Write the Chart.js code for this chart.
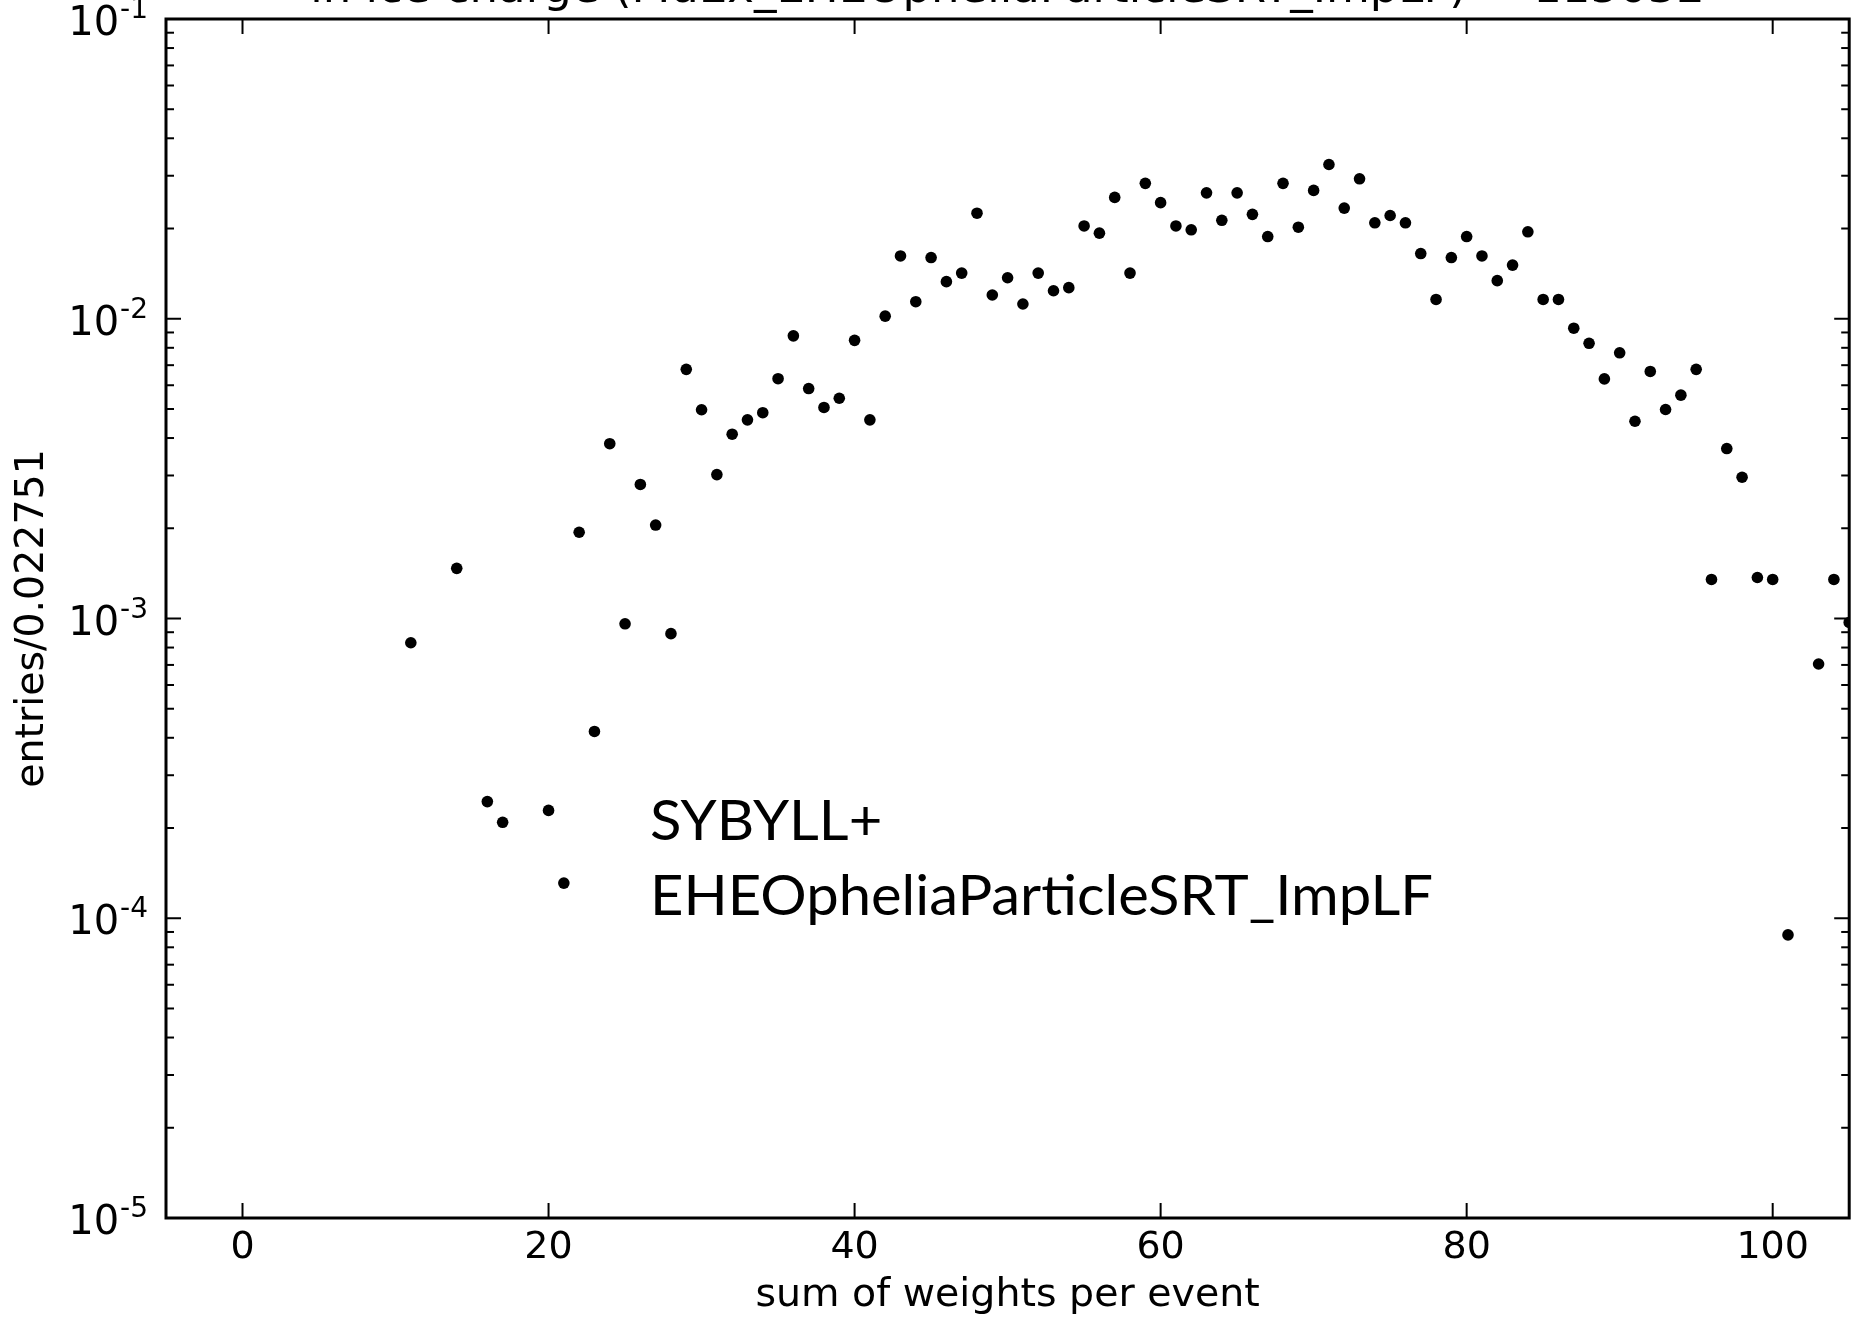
<!DOCTYPE html>
<html>
<head>
<meta charset="utf-8">
<script src="https://cdn.jsdelivr.net/npm/chart.js@4.4.1/dist/chart.umd.min.js"></script>
<style>
  html, body { margin: 0; padding: 0; background: #fff; }
  canvas { display: block; }
</style>
</head>
<body>
<canvas id="weightsChart" width="1855" height="1320"></canvas>
<script>
// ============================================
// Sum of weights per event (log scale scatter)
// ============================================

const titleText = 'in ice charge (MuEx_EHEOpheliaParticleSRT_ImpLF) = 115032';
const xTitle = 'sum of weights per event';
const yTitle = 'entries/0.022751';
const legendLines = ['SYBYLL+', 'EHEOpheliaParticleSRT_ImpLF'];

const xTicks = [0, 20, 40, 60, 80, 100];
const yTickExps = [-5, -4, -3, -2, -1];

const weights = [
    11, 14, 16, 17, 20, 21, 22, 23, 24, 25, 26, 27, 28, 29, 30,
    31, 32, 33, 34, 35, 36, 37, 38, 39, 40, 41, 42, 43, 44, 45,
    46, 47, 48, 49, 50, 51, 52, 53, 54, 55, 56, 57, 58, 59, 60,
    61, 62, 63, 64, 65, 66, 67, 68, 69, 70, 71, 72, 73, 74, 75,
    76, 77, 78, 79, 80, 81, 82, 83, 84, 85, 86, 87, 88, 89, 90,
    91, 92, 93, 94, 95, 96, 97, 98, 99, 100, 101, 103, 104, 105,
];

const entries = [
    8.3e-4, 1.47e-3, 2.45e-4, 2.09e-4, 2.29e-4, 1.31e-4, 1.94e-3, 4.2e-4, 3.83e-3, 9.6e-4, 2.8e-3, 2.05e-3, 8.9e-4, 6.78e-3, 4.97e-3,
    3.02e-3, 4.12e-3, 4.6e-3, 4.86e-3, 6.31e-3, 8.77e-3, 5.85e-3, 5.06e-3, 5.43e-3, 8.47e-3, 4.6e-3, 1.02e-2, 1.62e-2, 1.14e-2, 1.6e-2,
    1.33e-2, 1.42e-2, 2.25e-2, 1.2e-2, 1.37e-2, 1.12e-2, 1.42e-2, 1.24e-2, 1.27e-2, 2.04e-2, 1.93e-2, 2.54e-2, 1.42e-2, 2.83e-2, 2.44e-2,
    2.04e-2, 1.98e-2, 2.63e-2, 2.13e-2, 2.63e-2, 2.23e-2, 1.88e-2, 2.83e-2, 2.02e-2, 2.68e-2, 3.27e-2, 2.34e-2, 2.93e-2, 2.09e-2, 2.21e-2,
    2.09e-2, 1.65e-2, 1.16e-2, 1.6e-2, 1.88e-2, 1.62e-2, 1.34e-2, 1.51e-2, 1.95e-2, 1.16e-2, 1.16e-2, 9.3e-3, 8.28e-3, 6.3e-3, 7.7e-3,
    4.55e-3, 6.67e-3, 4.98e-3, 5.56e-3, 6.78e-3, 1.35e-3, 3.69e-3, 2.96e-3, 1.37e-3, 1.35e-3, 8.8e-5, 7.05e-4, 1.35e-3, 9.7e-4,
];

const AXIS_FONT = '"DejaVu Sans", sans-serif';

function line(ctx, x1, y1, x2, y2) {
    ctx.beginPath();
    ctx.moveTo(x1, y1);
    ctx.lineTo(x2, y2);
    ctx.stroke();
}

// matplotlib-style frame: inward ticks on all four sides, 10^n labels
const frameAxes = {
    id: 'frameAxes',
    afterDraw(chart) {
        const { ctx, chartArea: a, scales: { x, y } } = chart;
        ctx.save();
        ctx.strokeStyle = '#000';
        ctx.fillStyle = '#000';

        // ticks
        ctx.lineWidth = 2;
        xTicks.forEach(v => {
            const px = x.getPixelForValue(v);
            line(ctx, px, a.bottom, px, a.bottom - 15);
            line(ctx, px, a.top, px, a.top + 15);
        });
        yTickExps.forEach(e => {
            const py = y.getPixelForValue(Math.pow(10, e));
            line(ctx, a.left, py, a.left + 15, py);
            line(ctx, a.right, py, a.right - 15, py);
            if (e >= -1) return;
            for (let m = 2; m <= 9; m++) {
                const pm = y.getPixelForValue(m * Math.pow(10, e));
                line(ctx, a.left, pm, a.left + 8, pm);
                line(ctx, a.right, pm, a.right - 8, pm);
            }
        });

        // frame
        ctx.lineWidth = 3;
        ctx.strokeRect(a.left, a.top, a.width, a.height);

        // x tick labels
        ctx.font = `38px ${AXIS_FONT}`;
        ctx.textAlign = 'center';
        ctx.textBaseline = 'alphabetic';
        xTicks.forEach(v => ctx.fillText(String(v), x.getPixelForValue(v), a.bottom + 40));

        // y tick labels with superscript exponent
        yTickExps.forEach(e => {
            const py = y.getPixelForValue(Math.pow(10, e));
            const sup = '-' + Math.abs(e);
            const supRight = a.left - 18;
            ctx.textAlign = 'right';
            ctx.font = `28px ${AXIS_FONT}`;
            const supW = ctx.measureText(sup).width;
            ctx.fillText(sup, supRight, py - 1);
            ctx.font = `40px ${AXIS_FONT}`;
            ctx.fillText('10', supRight - supW - 1, py + 16);
        });

        // axis titles
        ctx.font = `39.5px ${AXIS_FONT}`;
        ctx.textAlign = 'center';
        ctx.fillText(xTitle, (a.left + a.right) / 2, 1306);
        ctx.save();
        ctx.translate(43, (a.top + a.bottom) / 2);
        ctx.rotate(-Math.PI / 2);
        ctx.fillText(yTitle, 0, 0);
        ctx.restore();

        // title, mostly above the canvas edge
        ctx.font = `45px ${AXIS_FONT}`;
        ctx.fillText(titleText, (a.left + a.right) / 2, 2);

        // overlay label
        ctx.font = '56px Lato, "Open Sans", sans-serif';
        ctx.textAlign = 'left';
        const sx = 783 / ctx.measureText(legendLines[1]).width;
        legendLines.forEach((txt, i) => {
            ctx.save();
            ctx.translate(650, 840 + i * 75);
            ctx.scale(sx, 1);
            ctx.fillText(txt, 0, 0);
            ctx.restore();
        });

        ctx.restore();
    },
};

new Chart(document.getElementById('weightsChart').getContext('2d'), {
    type: 'scatter',
    data: {
        datasets: [{
            label: 'entries',
            data: weights.map((w, i) => ({ x: w, y: entries[i] })),
            backgroundColor: '#000',
            borderColor: '#000',
            borderWidth: 0,
            pointRadius: 5.8,
            pointHoverRadius: 5.8,
            clip: 0,
        }],
    },
    options: {
        responsive: false,
        animation: false,
        devicePixelRatio: 1,
        layout: { padding: { left: 166, top: 19, right: 5, bottom: 102 } },
        plugins: {
            legend: { display: false },
            tooltip: { enabled: false },
        },
        scales: {
            x: { type: 'linear', min: -5, max: 105, display: false },
            y: { type: 'logarithmic', min: 1e-5, max: 1e-1, display: false },
        },
    },
    plugins: [frameAxes],
});
</script>
</body>
</html>
